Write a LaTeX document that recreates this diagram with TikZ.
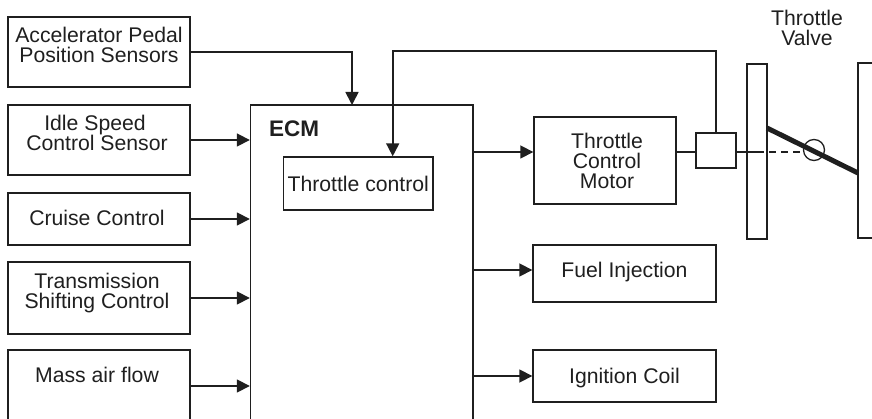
\documentclass[tikz,border=0pt]{standalone}
\usepackage{fontspec}
\setmainfont{Liberation Sans}
\usetikzlibrary{arrows.meta}
\definecolor{ink}{gray}{0.12}
\newcommand{\lefter}{\hspace*{-4pt}}
\tikzset{
  block/.style={draw = ink, text = ink, line width = 1.4pt, inner sep = 0pt, align = center,
    font = \fontsize{21.2}{20}\selectfont},
  leftblock/.style={block, minimum width = 182pt},
  rightblock/.style={block, minimum width = 183pt},
  caption/.style={text = ink, inner sep = 0pt, align = center, font = \fontsize{21.2}{20}\selectfont},
  link/.style={draw = ink, line width = 1.4pt},
  flow/.style={draw = ink, line width = 1.7pt, ->}
}

\begin{document}
\begin{tikzpicture}[x=1pt,y=-1pt,>={Triangle[length=13pt,width=13pt]}]
  \path[use as bounding box,clip] (0,0) rectangle (872,419);

  %input blocks
  \node[leftblock, minimum height = 70pt, text depth = 14pt] (accel) at (99,52) {Accelerator Pedal\\Position Sensors};
  \node[leftblock, minimum height = 70pt, text depth = 14pt] (idle) at (99,140) {\lefter\lefter Idle Speed\\\lefter Control Sensor};
  \node[leftblock, minimum height = 52pt, text depth = 2pt] (cruise) at (99,219) {\lefter Cruise Control};
  \node[leftblock, minimum height = 72pt, text depth = 14pt] (trans) at (99,298) {\lefter Transmission\\\lefter Shifting Control};
  \node[leftblock, minimum height = 72pt, text depth = 21.4pt] (mass) at (99,386) {\lefter Mass air flow};

  %controller
  \node[block, minimum width = 222.5pt, minimum height = 340pt] (ecm) at (361.75,275) {};
  \node[caption, anchor = base west, font = \fontsize{22.5}{20}\selectfont\bfseries] (ecmlabel) at (269,136.7) {ECM};
  \node[block, minimum width = 149.5pt, minimum height = 53pt] (control) at (358.25,183.5) {Throttle control};

  %output blocks
  \node[block, minimum width = 142pt, minimum height = 87pt] (motor) at (605,160.5) {\hspace*{4pt}Throttle\\\hspace*{4pt}Control\\\hspace*{4pt}Motor};
  \node[rightblock, minimum height = 57pt, text depth = 6.4pt] (fuel) at (624.5,273.5) {Fuel Injection};
  \node[rightblock, minimum height = 52pt, text depth = 0pt] (coil) at (624.5,376) {Ignition Coil};

  %valve
  \node[block, minimum width = 40pt, minimum height = 35pt] (sense) at (716,150.5) {};
  \node[block, minimum width = 20pt, minimum height = 175pt] (wall) at (757,151.5) {};
  \node[block, minimum width = 60pt, minimum height = 175pt] (body) at (888,150.5) {};
  \node[caption] (valvelabel) at (807,28) {Throttle\\Valve};
  \node[draw = ink, line width = 1.3pt, circle, minimum size = 21pt, inner sep = 0pt] (pivot) at (814,150) {};
  \coordinate (bladetop) at (767,128);
  \coordinate (bladeend) at (858,173);
  \coordinate (accelin) at (352,105);
  \coordinate (backturn) at (392.7,51);
  \coordinate (shaftmid) at (757,152);

  %inputs to the controller
  \draw[flow] (accel.east) -| (accelin);
  \draw[flow] (idle.east) -- (idle.east -| ecm.west);
  \draw[flow] (cruise.east) -- (cruise.east -| ecm.west);
  \draw[flow] (trans.east) -- (trans.east -| ecm.west);
  \draw[flow] (mass.east) -- (mass.east -| ecm.west);

  %feedback
  \draw[flow] (sense.north) |- (backturn) -- (backturn |- control.north);

  %outputs
  \draw[flow] ([yshift=8.5pt]ecm.east |- motor.west) -- ([yshift=8.5pt]motor.west);
  \draw[flow] ([yshift=3.5pt]ecm.east |- fuel.west) -- ([yshift=3.5pt]fuel.west);
  \draw[flow] (ecm.east |- coil.west) -- (coil.west);

  %shaft
  \draw[link] ([yshift=8.5pt]motor.east) -- (sense.west |- shaftmid);
  \draw[link] (sense.east |- shaftmid) -- (shaftmid);
  \draw[link, dash pattern = on 7pt off 5pt] (shaftmid) -- (pivot.west |- shaftmid);
  \draw[draw = ink, line width = 5pt] (bladetop) -- (bladeend);
\end{tikzpicture}
\end{document}
